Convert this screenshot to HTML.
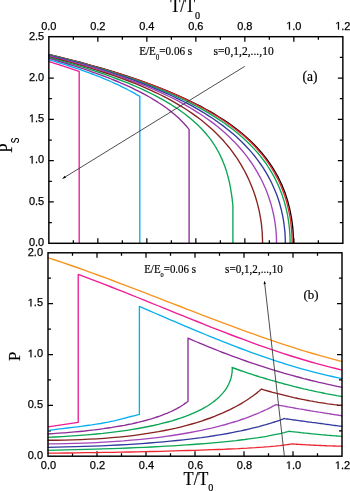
<!DOCTYPE html>
<html><head><meta charset="utf-8"><title>Ps and P vs T/T0</title>
<style>
html,body{margin:0;padding:0;background:#fff;}
body{width:350px;height:491px;overflow:hidden;font-family:"Liberation Sans",sans-serif;}
svg{display:block;}
.tx{filter:grayscale(1);}
</style></head><body>
<svg width="350" height="491" viewBox="0 0 350 491">
<rect width="350" height="491" fill="#fff"/>
<g fill="none" stroke="#000" stroke-width="1.25">
<path d="M73.35 36.70 v3.0 M73.35 243.30 v-3.0"/>
<path d="M97.85 36.70 v5.0 M97.85 243.30 v-5.0"/>
<path d="M122.35 36.70 v3.0 M122.35 243.30 v-3.0"/>
<path d="M146.85 36.70 v5.0 M146.85 243.30 v-5.0"/>
<path d="M171.35 36.70 v3.0 M171.35 243.30 v-3.0"/>
<path d="M195.85 36.70 v5.0 M195.85 243.30 v-5.0"/>
<path d="M220.35 36.70 v3.0 M220.35 243.30 v-3.0"/>
<path d="M244.85 36.70 v5.0 M244.85 243.30 v-5.0"/>
<path d="M269.35 36.70 v3.0 M269.35 243.30 v-3.0"/>
<path d="M293.85 36.70 v5.0 M293.85 243.30 v-5.0"/>
<path d="M318.35 36.70 v3.0 M318.35 243.30 v-3.0"/>
<path d="M48.85 222.64 h3.0 M342.85 222.64 h-3.0"/>
<path d="M48.85 201.98 h5.0 M342.85 201.98 h-5.0"/>
<path d="M48.85 181.32 h3.0 M342.85 181.32 h-3.0"/>
<path d="M48.85 160.66 h5.0 M342.85 160.66 h-5.0"/>
<path d="M48.85 140.00 h3.0 M342.85 140.00 h-3.0"/>
<path d="M48.85 119.34 h5.0 M342.85 119.34 h-5.0"/>
<path d="M48.85 98.68 h3.0 M342.85 98.68 h-3.0"/>
<path d="M48.85 78.02 h5.0 M342.85 78.02 h-5.0"/>
<path d="M48.85 57.36 h3.0 M342.85 57.36 h-3.0"/>
<path d="M72.50 252.80 v3.0 M72.50 456.20 v-3.0"/>
<path d="M97.00 252.80 v5.0 M97.00 456.20 v-5.0"/>
<path d="M121.50 252.80 v3.0 M121.50 456.20 v-3.0"/>
<path d="M146.00 252.80 v5.0 M146.00 456.20 v-5.0"/>
<path d="M170.50 252.80 v3.0 M170.50 456.20 v-3.0"/>
<path d="M195.00 252.80 v5.0 M195.00 456.20 v-5.0"/>
<path d="M219.50 252.80 v3.0 M219.50 456.20 v-3.0"/>
<path d="M244.00 252.80 v5.0 M244.00 456.20 v-5.0"/>
<path d="M268.50 252.80 v3.0 M268.50 456.20 v-3.0"/>
<path d="M293.00 252.80 v5.0 M293.00 456.20 v-5.0"/>
<path d="M317.50 252.80 v3.0 M317.50 456.20 v-3.0"/>
<path d="M48.00 430.77 h3.0 M342.00 430.77 h-3.0"/>
<path d="M48.00 405.35 h5.0 M342.00 405.35 h-5.0"/>
<path d="M48.00 379.93 h3.0 M342.00 379.93 h-3.0"/>
<path d="M48.00 354.50 h5.0 M342.00 354.50 h-5.0"/>
<path d="M48.00 329.07 h3.0 M342.00 329.07 h-3.0"/>
<path d="M48.00 303.65 h5.0 M342.00 303.65 h-5.0"/>
<path d="M48.00 278.23 h3.0 M342.00 278.23 h-3.0"/>
</g>
<g fill="none" stroke-width="1.35" stroke-linejoin="round">
<path stroke="#000000" d="M48.5 54.4 L59.8 57.1 L70.6 59.8 L81.0 62.5 L91.0 65.3 L100.6 68.0 L109.8 70.7 L118.7 73.5 L127.2 76.2 L135.3 78.9 L143.1 81.7 L150.6 84.4 L157.8 87.1 L164.7 89.9 L171.3 92.6 L177.6 95.3 L183.7 98.0 L189.5 100.8 L195.0 103.5 L200.4 106.2 L205.4 109.0 L210.3 111.7 L214.9 114.4 L219.4 117.2 L223.6 119.9 L227.7 122.6 L231.6 125.4 L235.2 128.1 L238.8 130.8 L242.1 133.6 L245.3 136.3 L248.4 139.0 L251.3 141.8 L254.1 144.5 L256.7 147.2 L259.2 149.9 L261.6 152.7 L263.8 155.4 L266.0 158.1 L268.0 160.9 L269.9 163.6 L271.8 166.3 L273.5 169.1 L275.1 171.8 L276.7 174.5 L278.2 177.2 L279.5 180.0 L280.8 182.7 L282.1 185.4 L283.2 188.2 L284.3 190.9 L285.3 193.6 L286.2 196.4 L287.1 199.1 L287.9 201.8 L288.6 204.6 L289.3 207.3 L289.9 210.0 L290.5 212.8 L291.0 215.5 L291.5 218.2 L291.9 220.9 L292.3 223.7 L292.6 226.4 L292.9 229.1 L293.1 231.9 L293.2 234.6 L293.4 237.3 L293.4 240.1 L293.4 242.8 L293.4 243.3"/>
<path stroke="#ED2630" d="M48.5 54.4 L59.7 57.2 L70.5 59.9 L80.8 62.6 L90.8 65.4 L100.3 68.1 L109.5 70.8 L118.3 73.5 L126.7 76.3 L134.8 79.0 L142.6 81.7 L150.1 84.5 L157.2 87.2 L164.1 89.9 L170.6 92.7 L176.9 95.4 L183.0 98.1 L188.7 100.8 L194.2 103.6 L199.5 106.3 L204.6 109.0 L209.4 111.8 L214.0 114.5 L218.5 117.2 L222.7 120.0 L226.7 122.7 L230.6 125.4 L234.2 128.2 L237.7 130.9 L241.1 133.6 L244.3 136.3 L247.3 139.1 L250.2 141.8 L252.9 144.5 L255.6 147.2 L258.0 150.0 L260.4 152.7 L262.7 155.4 L264.8 158.2 L266.8 160.9 L268.7 163.6 L270.6 166.4 L272.3 169.1 L273.9 171.8 L275.4 174.6 L276.9 177.3 L278.3 180.0 L279.6 182.7 L280.8 185.5 L281.9 188.2 L283.0 190.9 L284.0 193.7 L284.9 196.4 L285.8 199.1 L286.6 201.8 L287.3 204.6 L288.0 207.3 L288.6 210.0 L289.2 212.8 L289.7 215.5 L290.2 218.2 L290.6 221.0 L290.9 223.7 L291.2 226.4 L291.5 229.2 L291.7 231.9 L291.9 234.6 L292.0 237.3 L292.1 240.1 L292.1 242.8 L292.1 243.3"/>
<path stroke="#0AA655" d="M48.5 54.7 L59.5 57.4 L70.0 60.1 L80.1 62.9 L89.8 65.6 L99.2 68.3 L108.2 71.0 L116.8 73.8 L125.1 76.5 L133.1 79.2 L140.7 81.9 L148.0 84.7 L155.1 87.4 L161.8 90.1 L168.3 92.8 L174.5 95.6 L180.4 98.3 L186.1 101.0 L191.6 103.8 L196.8 106.5 L201.8 109.2 L206.6 111.9 L211.2 114.7 L215.6 117.4 L219.8 120.1 L223.8 122.8 L227.7 125.6 L231.3 128.3 L234.8 131.0 L238.2 133.7 L241.4 136.5 L244.4 139.2 L247.3 141.9 L250.1 144.7 L252.7 147.4 L255.2 150.1 L257.6 152.8 L259.9 155.6 L262.1 158.3 L264.1 161.0 L266.1 163.7 L267.9 166.5 L269.7 169.2 L271.3 171.9 L272.9 174.6 L274.4 177.4 L275.8 180.1 L277.1 182.8 L278.4 185.6 L279.5 188.3 L280.6 191.0 L281.7 193.7 L282.6 196.4 L283.5 199.2 L284.4 201.9 L285.1 204.6 L285.8 207.4 L286.5 210.1 L287.1 212.8 L287.6 215.5 L288.1 218.3 L288.5 221.0 L288.9 223.7 L289.2 226.4 L289.5 229.2 L289.7 231.9 L289.9 234.6 L290.0 237.3 L290.1 240.1 L290.1 242.8 L290.1 243.3"/>
<path stroke="#323A9E" d="M48.5 55.3 L59.5 58.0 L70.0 60.7 L80.1 63.4 L89.7 66.2 L99.0 68.9 L107.8 71.6 L116.3 74.3 L124.4 77.0 L132.2 79.7 L139.6 82.5 L146.7 85.2 L153.5 87.9 L160.0 90.6 L166.3 93.3 L172.2 96.0 L178.0 98.8 L183.4 101.5 L188.7 104.2 L193.7 106.9 L198.5 109.6 L203.1 112.3 L207.5 115.1 L211.7 117.8 L215.7 120.5 L219.5 123.2 L223.2 125.9 L226.7 128.7 L230.1 131.4 L233.3 134.1 L236.4 136.8 L239.3 139.5 L242.2 142.2 L244.8 145.0 L247.4 147.7 L249.9 150.4 L252.2 153.1 L254.4 155.8 L256.6 158.6 L258.6 161.3 L260.5 164.0 L262.4 166.7 L264.1 169.4 L265.8 172.1 L267.4 174.9 L268.9 177.6 L270.3 180.3 L271.7 183.0 L272.9 185.7 L274.1 188.4 L275.3 191.2 L276.4 193.9 L277.4 196.6 L278.3 199.3 L279.2 202.0 L280.0 204.8 L280.7 207.5 L281.4 210.2 L282.0 212.9 L282.6 215.6 L283.1 218.3 L283.6 221.1 L284.0 223.8 L284.3 226.5 L284.6 229.2 L284.9 231.9 L285.1 234.7 L285.2 237.4 L285.3 240.1 L285.3 242.8 L285.3 243.3"/>
<path stroke="#A345B8" d="M48.5 55.9 L59.4 58.6 L69.9 61.3 L79.8 64.0 L89.3 66.7 L98.4 69.4 L107.0 72.1 L115.3 74.8 L123.2 77.5 L130.7 80.3 L137.8 83.0 L144.7 85.7 L151.2 88.4 L157.5 91.1 L163.4 93.8 L169.1 96.5 L174.6 99.2 L179.7 101.9 L184.7 104.6 L189.4 107.3 L193.9 110.1 L198.3 112.8 L202.4 115.5 L206.4 118.2 L210.1 120.9 L213.8 123.6 L217.2 126.3 L220.5 129.0 L223.7 131.7 L226.7 134.4 L229.6 137.2 L232.3 139.9 L235.0 142.6 L237.5 145.3 L239.9 148.0 L242.3 150.7 L244.5 153.4 L246.6 156.1 L248.6 158.8 L250.5 161.5 L252.4 164.2 L254.1 166.9 L255.8 169.7 L257.4 172.4 L258.9 175.1 L260.4 177.8 L261.8 180.5 L263.1 183.2 L264.3 185.9 L265.5 188.6 L266.6 191.3 L267.6 194.0 L268.6 196.8 L269.5 199.5 L270.4 202.2 L271.2 204.9 L271.9 207.6 L272.6 210.3 L273.2 213.0 L273.8 215.7 L274.3 218.4 L274.8 221.1 L275.2 223.8 L275.5 226.6 L275.8 229.2 L276.1 232.0 L276.3 234.7 L276.4 237.4 L276.5 240.1 L276.5 242.8 L276.5 243.3"/>
<path stroke="#872220" d="M48.5 56.8 L59.3 59.5 L69.6 62.2 L79.4 64.9 L88.7 67.6 L97.5 70.3 L105.9 73.0 L113.9 75.7 L121.5 78.3 L128.7 81.0 L135.5 83.7 L142.1 86.4 L148.2 89.1 L154.2 91.8 L159.8 94.5 L165.1 97.2 L170.2 99.9 L175.0 102.6 L179.6 105.3 L184.0 108.0 L188.2 110.7 L192.1 113.4 L195.9 116.1 L199.6 118.8 L203.0 121.5 L206.3 124.2 L209.4 126.9 L212.4 129.6 L215.2 132.3 L218.0 135.0 L220.6 137.7 L223.1 140.3 L225.4 143.1 L227.7 145.7 L229.9 148.4 L231.9 151.1 L233.9 153.8 L235.8 156.5 L237.6 159.2 L239.3 161.9 L241.0 164.6 L242.5 167.3 L244.0 170.0 L245.5 172.7 L246.8 175.4 L248.1 178.1 L249.3 180.8 L250.5 183.5 L251.6 186.2 L252.7 188.9 L253.7 191.6 L254.6 194.3 L255.5 197.0 L256.3 199.7 L257.1 202.4 L257.8 205.1 L258.4 207.8 L259.1 210.4 L259.6 213.1 L260.1 215.8 L260.6 218.5 L261.0 221.2 L261.4 223.9 L261.7 226.6 L261.9 229.3 L262.2 232.0 L262.3 234.7 L262.4 237.4 L262.5 240.1 L262.6 242.8 L262.6 243.3"/>
<path stroke="#0AA655" d="M48.5 57.5 L56.6 59.6 L64.4 61.8 L71.9 63.9 L79.2 66.1 L86.1 68.2 L92.9 70.4 L99.3 72.5 L105.6 74.7 L111.6 76.8 L117.4 79.0 L122.9 81.1 L128.3 83.2 L133.4 85.4 L138.3 87.5 L143.1 89.7 L147.6 91.8 L152.0 94.0 L156.2 96.1 L160.2 98.3 L164.1 100.4 L167.7 102.6 L171.3 104.7 L174.6 106.9 L177.9 109.0 L181.0 111.2 L183.9 113.3 L186.7 115.5 L189.4 117.6 L192.0 119.8 L194.4 121.9 L196.8 124.0 L199.0 126.2 L201.1 128.3 L203.2 130.5 L205.1 132.7 L206.9 134.8 L208.6 136.9 L210.3 139.1 L211.8 141.2 L213.3 143.4 L214.7 145.5 L216.0 147.7 L217.3 149.8 L218.5 152.0 L219.6 154.1 L220.6 156.3 L221.6 158.4 L222.6 160.6 L223.4 162.7 L224.3 164.9 L225.1 167.0 L225.8 169.2 L226.5 171.3 L227.1 173.4 L227.7 175.6 L228.3 177.8 L228.8 179.9 L229.3 182.0 L229.8 184.2 L230.2 186.3 L230.6 188.5 L230.9 190.6 L231.3 192.8 L231.6 194.9 L231.9 197.1 L232.2 199.2 L232.4 201.4 L232.7 203.5 L232.9 205.7 L232.9 243.3"/>
<path stroke="#8E2C98" d="M48.5 58.4 L52.2 59.4 L55.8 60.4 L59.4 61.5 L62.9 62.5 L66.3 63.5 L69.7 64.5 L73.1 65.6 L76.3 66.6 L79.5 67.6 L82.7 68.7 L85.8 69.7 L88.8 70.7 L91.8 71.8 L94.7 72.8 L97.6 73.8 L100.4 74.8 L103.2 75.9 L105.9 76.9 L108.6 77.9 L111.2 79.0 L113.7 80.0 L116.2 81.0 L118.7 82.0 L121.1 83.1 L123.5 84.1 L125.8 85.1 L128.1 86.2 L130.3 87.2 L132.5 88.2 L134.6 89.3 L136.7 90.3 L138.8 91.3 L140.8 92.3 L142.7 93.4 L144.6 94.4 L146.5 95.4 L148.4 96.5 L150.2 97.5 L151.9 98.5 L153.6 99.6 L155.3 100.6 L157.0 101.6 L158.6 102.7 L160.2 103.7 L161.7 104.7 L163.2 105.7 L164.7 106.8 L166.1 107.8 L167.5 108.8 L168.8 109.8 L170.2 110.9 L171.5 111.9 L172.7 112.9 L174.0 114.0 L175.2 115.0 L176.3 116.0 L177.5 117.1 L178.6 118.1 L179.7 119.1 L180.8 120.2 L181.8 121.2 L182.8 122.2 L183.8 123.2 L184.7 124.3 L185.6 125.3 L186.5 126.3 L187.4 127.4 L188.2 128.4 L189.1 129.4 L189.1 243.3"/>
<path stroke="#08AEEF" d="M48.5 59.6 L50.3 60.1 L52.1 60.7 L54.0 61.2 L55.7 61.7 L57.5 62.3 L59.2 62.8 L61.0 63.3 L62.7 63.9 L64.4 64.4 L66.1 64.9 L67.7 65.5 L69.4 66.0 L71.0 66.5 L72.6 67.1 L74.2 67.6 L75.8 68.1 L77.4 68.7 L78.9 69.2 L80.5 69.7 L82.0 70.3 L83.5 70.8 L85.0 71.3 L86.5 71.9 L87.9 72.4 L89.4 72.9 L90.8 73.5 L92.2 74.0 L93.6 74.5 L95.0 75.1 L96.4 75.6 L97.8 76.1 L99.1 76.7 L100.5 77.2 L101.8 77.7 L103.1 78.3 L104.4 78.8 L105.6 79.3 L106.9 79.9 L108.2 80.4 L109.4 80.9 L110.6 81.5 L111.8 82.0 L113.0 82.5 L114.2 83.1 L115.4 83.6 L116.5 84.1 L117.7 84.7 L118.8 85.2 L119.9 85.7 L121.0 86.3 L122.1 86.8 L123.2 87.3 L124.3 87.9 L125.3 88.4 L126.4 88.9 L127.4 89.5 L128.4 90.0 L129.4 90.5 L130.4 91.1 L131.4 91.6 L132.4 92.1 L133.3 92.7 L134.3 93.2 L135.2 93.7 L136.2 94.3 L137.1 94.8 L138.0 95.3 L138.9 95.9 L139.8 96.4 L139.8 243.3"/>
<path stroke="#EE1E94" d="M48.5 61.4 L49.0 61.5 L49.4 61.7 L49.9 61.8 L50.4 62.0 L50.8 62.1 L51.3 62.3 L51.7 62.4 L52.2 62.5 L52.6 62.7 L53.1 62.8 L53.5 63.0 L54.0 63.1 L54.4 63.3 L54.9 63.4 L55.3 63.6 L55.8 63.7 L56.2 63.9 L56.7 64.0 L57.1 64.2 L57.6 64.3 L58.0 64.4 L58.5 64.6 L58.9 64.7 L59.4 64.9 L59.8 65.0 L60.3 65.2 L60.7 65.3 L61.2 65.5 L61.6 65.6 L62.1 65.7 L62.5 65.9 L63.0 66.0 L63.4 66.2 L63.9 66.3 L64.3 66.5 L64.7 66.6 L65.2 66.8 L65.6 66.9 L66.1 67.0 L66.5 67.2 L67.0 67.3 L67.4 67.5 L67.8 67.6 L68.3 67.8 L68.7 67.9 L69.2 68.1 L69.6 68.2 L70.0 68.4 L70.5 68.5 L70.9 68.7 L71.3 68.8 L71.8 68.9 L72.2 69.1 L72.7 69.2 L73.1 69.4 L73.5 69.5 L74.0 69.7 L74.4 69.8 L74.8 70.0 L75.3 70.1 L75.7 70.2 L76.2 70.4 L76.6 70.5 L77.0 70.7 L77.5 70.8 L77.9 71.0 L78.3 71.1 L78.8 71.3 L79.2 71.4 L79.2 243.3"/>
<path stroke="#ED2630" d="M47.5 453.2 L57.4 453.1 L67.1 453.0 L76.5 452.8 L85.8 452.7 L94.9 452.6 L103.7 452.4 L112.4 452.3 L120.8 452.1 L129.1 452.0 L137.2 451.8 L145.0 451.6 L152.6 451.5 L160.1 451.3 L167.3 451.1 L174.3 450.9 L181.2 450.7 L187.8 450.5 L194.2 450.3 L200.4 450.1 L206.4 449.9 L212.2 449.7 L217.8 449.5 L223.2 449.3 L228.4 449.0 L233.4 448.8 L238.2 448.6 L242.8 448.3 L247.2 448.1 L251.3 447.8 L255.3 447.6 L259.1 447.3 L262.7 447.1 L266.0 446.8 L269.2 446.6 L272.1 446.3 L274.9 446.1 L277.4 445.8 L279.8 445.6 L281.9 445.3 L283.9 445.1 L285.6 444.9 L287.1 444.7 L288.4 444.5 L289.6 444.3 L290.5 444.2 L291.2 444.0 L291.7 443.9 L292.0 443.9 L292.1 443.9 L292.1 443.9 L293.4 444.0 L294.6 444.1 L295.9 444.2 L297.1 444.2 L298.4 444.3 L299.6 444.4 L300.9 444.5 L302.1 444.6 L303.4 444.6 L304.6 444.7 L305.9 444.8 L307.2 444.9 L308.4 444.9 L309.7 445.0 L310.9 445.1 L312.2 445.1 L313.4 445.2 L314.7 445.2 L315.9 445.3 L317.2 445.4 L318.5 445.4 L319.7 445.5 L321.0 445.5 L322.2 445.6 L323.5 445.6 L324.7 445.7 L326.0 445.7 L327.2 445.8 L328.5 445.8 L329.8 445.9 L331.0 445.9 L332.3 445.9 L333.5 446.0 L334.8 446.0 L336.0 446.1 L337.3 446.1 L338.5 446.1 L339.8 446.1 L341.1 446.2 L342.3 446.2"/>
<path stroke="#0AA655" d="M47.5 450.3 L57.3 450.1 L66.8 449.9 L76.2 449.7 L85.4 449.4 L94.3 449.2 L103.1 448.9 L111.7 448.6 L120.0 448.3 L128.2 448.0 L136.1 447.7 L143.9 447.3 L151.4 447.0 L158.8 446.6 L165.9 446.2 L172.9 445.8 L179.6 445.4 L186.2 444.9 L192.5 444.5 L198.7 444.0 L204.6 443.6 L210.3 443.1 L215.9 442.6 L221.2 442.1 L226.4 441.6 L231.3 441.1 L236.0 440.6 L240.6 440.0 L244.9 439.5 L249.0 438.9 L252.9 438.4 L256.7 437.9 L260.2 437.3 L263.5 436.8 L266.6 436.3 L269.6 435.7 L272.3 435.2 L274.8 434.7 L277.1 434.2 L279.2 433.8 L281.1 433.4 L282.9 432.9 L284.4 432.6 L285.7 432.2 L286.8 431.9 L287.7 431.7 L288.4 431.5 L288.9 431.4 L289.2 431.3 L289.3 431.2 L289.3 431.3 L290.6 431.5 L291.9 431.6 L293.3 431.8 L294.6 431.9 L295.9 432.1 L297.2 432.2 L298.6 432.4 L299.9 432.5 L301.2 432.7 L302.6 432.8 L303.9 433.0 L305.2 433.1 L306.5 433.2 L307.9 433.4 L309.2 433.5 L310.5 433.6 L311.8 433.8 L313.1 433.9 L314.5 434.1 L315.8 434.2 L317.1 434.3 L318.4 434.4 L319.8 434.6 L321.1 434.7 L322.4 434.8 L323.8 434.9 L325.1 435.0 L326.4 435.1 L327.7 435.3 L329.1 435.4 L330.4 435.5 L331.7 435.6 L333.0 435.7 L334.4 435.8 L335.7 435.9 L337.0 436.0 L338.3 436.1 L339.6 436.2 L341.0 436.3 L342.3 436.4"/>
<path stroke="#323A9E" d="M47.5 447.3 L57.1 447.1 L66.4 446.9 L75.6 446.7 L84.6 446.4 L93.4 446.1 L101.9 445.8 L110.3 445.4 L118.5 445.0 L126.5 444.6 L134.3 444.1 L141.9 443.6 L149.3 443.0 L156.5 442.4 L163.5 441.8 L170.3 441.2 L176.9 440.5 L183.3 439.8 L189.5 439.1 L195.5 438.3 L201.4 437.6 L207.0 436.8 L212.4 436.0 L217.6 435.1 L222.7 434.3 L227.5 433.5 L232.1 432.6 L236.6 431.7 L240.8 430.9 L244.8 430.0 L248.7 429.1 L252.3 428.2 L255.8 427.4 L259.1 426.6 L262.1 425.7 L265.0 424.9 L267.6 424.1 L270.1 423.4 L272.4 422.7 L274.4 422.0 L276.3 421.4 L278.0 420.8 L279.5 420.3 L280.8 419.8 L281.8 419.4 L282.7 419.1 L283.4 418.8 L283.9 418.6 L284.2 418.5 L284.3 418.5 L284.3 418.6 L285.8 418.8 L287.2 419.0 L288.6 419.2 L290.1 419.4 L291.6 419.6 L293.0 419.8 L294.4 420.0 L295.9 420.2 L297.4 420.4 L298.8 420.6 L300.2 420.8 L301.7 421.0 L303.1 421.2 L304.6 421.4 L306.1 421.6 L307.5 421.8 L308.9 422.0 L310.4 422.1 L311.9 422.4 L313.3 422.6 L314.8 422.7 L316.2 422.9 L317.6 423.1 L319.1 423.3 L320.6 423.5 L322.0 423.7 L323.4 423.9 L324.9 424.1 L326.4 424.3 L327.8 424.5 L329.2 424.7 L330.7 424.9 L332.1 425.1 L333.6 425.3 L335.1 425.5 L336.5 425.7 L337.9 425.9 L339.4 426.1 L340.9 426.2 L342.3 426.4"/>
<path stroke="#A345B8" d="M47.5 443.9 L56.7 443.8 L65.8 443.6 L74.6 443.4 L83.3 443.1 L91.8 442.8 L100.0 442.4 L108.1 441.9 L116.0 441.4 L123.7 440.9 L131.2 440.2 L138.6 439.6 L145.7 438.9 L152.7 438.1 L159.4 437.3 L166.0 436.4 L172.4 435.5 L178.6 434.5 L184.5 433.5 L190.3 432.5 L196.0 431.4 L201.4 430.3 L206.6 429.2 L211.7 428.1 L216.5 426.9 L221.2 425.7 L225.7 424.5 L229.9 423.2 L234.0 422.0 L237.9 420.8 L241.6 419.5 L245.2 418.3 L248.5 417.1 L251.6 415.9 L254.6 414.7 L257.4 413.6 L259.9 412.5 L262.3 411.4 L264.5 410.4 L266.5 409.5 L268.3 408.6 L269.9 407.8 L271.3 407.1 L272.6 406.4 L273.6 405.9 L274.5 405.4 L275.1 405.0 L275.6 404.8 L275.9 404.6 L276.0 404.5 L276.0 404.7 L277.7 405.0 L279.3 405.3 L281.0 405.6 L282.6 405.9 L284.3 406.2 L285.9 406.5 L287.6 406.8 L289.3 407.1 L290.9 407.4 L292.6 407.7 L294.2 408.0 L295.9 408.3 L297.6 408.6 L299.2 408.9 L300.9 409.1 L302.5 409.4 L304.2 409.7 L305.8 410.0 L307.5 410.3 L309.1 410.5 L310.8 410.8 L312.5 411.1 L314.1 411.4 L315.8 411.6 L317.4 411.9 L319.1 412.2 L320.8 412.4 L322.4 412.7 L324.1 413.0 L325.7 413.2 L327.4 413.5 L329.0 413.7 L330.7 414.0 L332.4 414.3 L334.0 414.5 L335.7 414.8 L337.3 415.0 L339.0 415.3 L340.6 415.5 L342.3 415.8"/>
<path stroke="#872220" d="M47.5 440.2 L56.1 440.2 L64.6 440.1 L72.9 439.9 L81.0 439.6 L89.0 439.2 L96.8 438.8 L104.3 438.3 L111.7 437.7 L119.0 437.1 L126.0 436.4 L132.9 435.6 L139.6 434.7 L146.1 433.7 L152.4 432.7 L158.6 431.7 L164.6 430.5 L170.3 429.3 L176.0 428.1 L181.4 426.8 L186.7 425.4 L191.8 424.0 L196.7 422.6 L201.4 421.1 L205.9 419.5 L210.3 418.0 L214.5 416.4 L218.5 414.7 L222.4 413.1 L226.0 411.4 L229.5 409.8 L232.8 408.1 L235.9 406.5 L238.9 404.9 L241.6 403.3 L244.2 401.7 L246.6 400.2 L248.8 398.7 L250.9 397.3 L252.8 396.0 L254.5 394.7 L256.0 393.6 L257.3 392.6 L258.5 391.6 L259.5 390.8 L260.3 390.1 L260.9 389.6 L261.3 389.2 L261.6 389.0 L261.7 388.9 L261.7 389.2 L263.7 389.8 L265.7 390.4 L267.8 391.0 L269.8 391.5 L271.8 392.1 L273.8 392.6 L275.8 393.2 L277.8 393.7 L279.8 394.2 L281.9 394.7 L283.9 395.2 L285.9 395.7 L287.9 396.2 L289.9 396.7 L291.9 397.1 L293.9 397.6 L295.9 398.0 L298.0 398.5 L300.0 398.9 L302.0 399.3 L304.0 399.7 L306.0 400.1 L308.1 400.5 L310.1 400.9 L312.1 401.2 L314.1 401.6 L316.1 401.9 L318.1 402.3 L320.1 402.6 L322.1 402.9 L324.2 403.2 L326.2 403.6 L328.2 403.9 L330.2 404.1 L332.2 404.4 L334.2 404.7 L336.2 404.9 L338.3 405.2 L340.3 405.4 L342.3 405.6"/>
<path stroke="#0AA655" d="M47.5 437.3 L55.0 437.0 L62.3 436.6 L69.4 436.1 L76.4 435.7 L83.3 435.2 L90.0 434.6 L96.5 434.0 L102.9 433.4 L109.2 432.6 L115.2 431.9 L121.2 431.1 L126.9 430.3 L132.6 429.4 L138.0 428.5 L143.3 427.5 L148.5 426.5 L153.5 425.5 L158.3 424.4 L163.0 423.2 L167.6 422.0 L172.0 420.8 L176.2 419.5 L180.3 418.2 L184.2 416.8 L188.0 415.4 L191.6 413.9 L195.1 412.4 L198.4 410.9 L201.5 409.3 L204.5 407.6 L207.4 406.0 L210.1 404.2 L212.6 402.5 L215.0 400.6 L217.2 398.8 L219.3 396.9 L221.2 394.9 L223.0 392.9 L224.6 390.9 L226.1 388.8 L227.4 386.6 L228.5 384.5 L229.5 382.2 L230.4 380.0 L231.1 377.7 L231.6 375.3 L232.0 372.9 L232.2 370.5 L232.3 368.0 L232.1 367.5 L234.8 368.5 L237.6 369.5 L240.4 370.5 L243.1 371.4 L245.9 372.4 L248.6 373.3 L251.4 374.2 L254.1 375.1 L256.9 376.0 L259.6 376.9 L262.4 377.7 L265.2 378.5 L267.9 379.4 L270.7 380.2 L273.4 380.9 L276.2 381.7 L278.9 382.5 L281.7 383.2 L284.4 384.0 L287.2 384.7 L289.9 385.4 L292.7 386.1 L295.5 386.8 L298.2 387.5 L301.0 388.1 L303.7 388.8 L306.5 389.4 L309.2 390.1 L312.0 390.7 L314.8 391.3 L317.5 391.9 L320.3 392.4 L323.0 393.0 L325.8 393.6 L328.5 394.1 L331.3 394.6 L334.0 395.1 L336.8 395.7 L339.6 396.2 L342.3 396.7"/>
<path stroke="#8E2C98" d="M47.5 434.0 L53.2 433.6 L58.7 433.2 L64.2 432.8 L69.5 432.4 L74.7 431.9 L79.8 431.5 L84.8 431.0 L89.6 430.4 L94.4 429.9 L99.0 429.3 L103.5 428.7 L107.9 428.0 L112.2 427.4 L116.3 426.7 L120.3 426.0 L124.3 425.3 L128.1 424.5 L131.8 423.8 L135.3 423.0 L138.8 422.2 L142.1 421.3 L145.3 420.5 L148.4 419.6 L151.4 418.8 L154.3 417.9 L157.0 417.0 L159.7 416.1 L162.2 415.2 L164.6 414.2 L166.9 413.3 L169.0 412.4 L171.1 411.5 L173.0 410.6 L174.8 409.7 L176.5 408.8 L178.1 407.9 L179.6 407.1 L180.9 406.3 L182.2 405.5 L183.3 404.8 L184.2 404.1 L185.1 403.4 L185.9 402.9 L186.5 402.4 L187.1 402.0 L187.5 401.7 L187.8 401.4 L187.9 401.3 L188.0 401.2 L188.0 338.1 L191.9 339.8 L195.7 341.5 L199.6 343.1 L203.4 344.7 L207.3 346.3 L211.2 347.9 L215.0 349.4 L218.9 351.0 L222.7 352.5 L226.6 353.9 L230.4 355.4 L234.3 356.8 L238.2 358.2 L242.0 359.6 L245.9 361.0 L249.7 362.3 L253.6 363.6 L257.4 364.9 L261.3 366.2 L265.1 367.4 L269.0 368.6 L272.9 369.8 L276.7 371.0 L280.6 372.1 L284.4 373.3 L288.3 374.4 L292.1 375.4 L296.0 376.5 L299.9 377.5 L303.7 378.6 L307.6 379.5 L311.4 380.5 L315.3 381.4 L319.1 382.4 L323.0 383.2 L326.9 384.1 L330.7 384.9 L334.6 385.8 L338.4 386.6 L342.3 387.4"/>
<path stroke="#08AEEF" d="M48.0 430.5 L52.8 429.9 L57.7 429.2 L62.6 428.6 L67.5 428.0 L72.5 427.4 L77.4 426.8 L82.3 426.2 L87.1 425.5 L91.8 424.9 L96.4 424.2 L100.8 423.5 L105.0 422.7 L108.2 422.1 L111.3 421.4 L114.2 420.8 L117.1 420.1 L120.0 419.4 L122.8 418.7 L125.5 418.0 L128.3 417.2 L131.0 416.5 L133.8 415.8 L136.6 415.1 L139.4 414.4 L139.4 306.4 L144.5 308.6 L149.6 310.8 L154.6 313.0 L159.7 315.2 L164.8 317.4 L169.8 319.6 L174.9 321.7 L180.0 323.9 L185.1 326.1 L190.1 328.2 L195.2 330.3 L200.3 332.4 L205.3 334.5 L210.4 336.6 L215.5 338.6 L220.6 340.7 L225.6 342.7 L230.7 344.7 L235.8 346.6 L240.8 348.5 L245.9 350.4 L251.0 352.3 L256.1 354.1 L261.1 355.9 L266.2 357.7 L271.3 359.4 L276.4 361.1 L281.4 362.7 L286.5 364.3 L291.6 365.9 L296.6 367.4 L301.7 368.8 L306.8 370.2 L311.9 371.6 L316.9 372.9 L322.0 374.2 L327.1 375.4 L332.1 376.5 L337.2 377.6 L342.3 378.6"/>
<path stroke="#EE1E94" d="M48.0 426.9 L78.2 422.4 L78.2 274.4 L84.8 276.9 L91.4 279.3 L98.0 281.9 L104.6 284.4 L111.2 287.0 L117.8 289.6 L124.4 292.2 L131.0 294.8 L137.6 297.5 L144.2 300.1 L150.8 302.8 L157.4 305.5 L164.0 308.2 L170.6 310.9 L177.2 313.6 L183.8 316.2 L190.4 318.9 L197.1 321.5 L203.7 324.2 L210.2 326.8 L216.8 329.4 L223.5 331.9 L230.1 334.5 L236.7 337.0 L243.3 339.4 L249.9 341.9 L256.5 344.3 L263.1 346.6 L269.7 348.9 L276.3 351.1 L282.9 353.3 L289.5 355.5 L296.1 357.5 L302.7 359.5 L309.3 361.5 L315.9 363.4 L322.5 365.1 L329.1 366.9 L335.7 368.5 L342.3 370.1"/>
<path stroke="#F7941E" d="M47.5 257.6 L54.9 260.0 L62.2 262.4 L69.6 265.0 L77.0 267.5 L84.3 270.2 L91.7 272.8 L99.1 275.5 L106.5 278.2 L113.8 281.0 L121.2 283.8 L128.6 286.6 L135.9 289.4 L143.3 292.2 L150.7 295.1 L158.1 297.9 L165.4 300.8 L172.8 303.7 L180.2 306.5 L187.5 309.4 L194.9 312.2 L202.3 315.1 L209.6 317.9 L217.0 320.7 L224.4 323.4 L231.8 326.2 L239.1 328.9 L246.5 331.6 L253.9 334.2 L261.2 336.8 L268.6 339.4 L276.0 341.9 L283.3 344.3 L290.7 346.7 L298.1 349.1 L305.4 351.3 L312.8 353.5 L320.2 355.7 L327.6 357.7 L334.9 359.7 L342.3 361.6"/>
</g>
<g stroke="#3a3a3a" stroke-width="0.9" fill="#000">

<line x1="244.7" y1="66.4" x2="64" y2="177.7"/>
<polygon stroke="none" points="62,178.9 64.75,175.7 66.05,177.85"/>
<line x1="284.3" y1="455.5" x2="264.7" y2="283.5"/>
<polygon stroke="none" points="264.4,280.8 265.9,283.9 263.6,284.15"/>

</g>
<g fill="none" stroke="#000" stroke-width="1.45">
<rect x="48.85" y="36.70" width="294.00" height="206.60"/>
<rect x="48.00" y="252.80" width="294.00" height="203.40"/>
</g>
<g class="tx" font-family="'Liberation Sans', sans-serif" font-size="11" fill="#000" stroke="#000" stroke-width="0.25">
<text x="41.20" y="29.50">0.0</text>
<text x="40.85" y="469.00">0.0</text>
<text x="90.20" y="29.50">0.2</text>
<text x="89.86" y="469.00">0.2</text>
<text x="139.20" y="29.50">0.4</text>
<text x="138.85" y="469.00">0.4</text>
<text x="188.20" y="29.50">0.6</text>
<text x="187.85" y="469.00">0.6</text>
<text x="237.20" y="29.50">0.8</text>
<text x="236.85" y="469.00">0.8</text>
<path transform="translate(286.21,29.50) scale(0.00537,-0.00537)" d="M515 0V1237L197 1010V1180L530 1409H696V0Z" stroke-width="47"/><text x="292.32" y="29.50">.0</text>
<path transform="translate(285.86,469.00) scale(0.00537,-0.00537)" d="M515 0V1237L197 1010V1180L530 1409H696V0Z" stroke-width="47"/><text x="291.97" y="469.00">.0</text>
<path transform="translate(335.21,29.50) scale(0.00537,-0.00537)" d="M515 0V1237L197 1010V1180L530 1409H696V0Z" stroke-width="47"/><text x="341.32" y="29.50">.2</text>
<path transform="translate(334.86,469.00) scale(0.00537,-0.00537)" d="M515 0V1237L197 1010V1180L530 1409H696V0Z" stroke-width="47"/><text x="340.97" y="469.00">.2</text>
<text x="28.91" y="246.10">0.0</text>
<text x="28.91" y="204.78">0.5</text>
<path transform="translate(28.91,163.46) scale(0.00537,-0.00537)" d="M515 0V1237L197 1010V1180L530 1409H696V0Z" stroke-width="47"/><text x="35.03" y="163.46">.0</text>
<path transform="translate(28.91,122.14) scale(0.00537,-0.00537)" d="M515 0V1237L197 1010V1180L530 1409H696V0Z" stroke-width="47"/><text x="35.03" y="122.14">.5</text>
<text x="28.91" y="80.82">2.0</text>
<text x="28.91" y="39.50">2.5</text>
<text x="27.71" y="459.00">0.0</text>
<text x="27.71" y="408.15">0.5</text>
<path transform="translate(27.71,357.30) scale(0.00537,-0.00537)" d="M515 0V1237L197 1010V1180L530 1409H696V0Z" stroke-width="47"/><text x="33.83" y="357.30">.0</text>
<path transform="translate(27.71,306.45) scale(0.00537,-0.00537)" d="M515 0V1237L197 1010V1180L530 1409H696V0Z" stroke-width="47"/><text x="33.83" y="306.45">.5</text>
<text x="27.71" y="255.60">2.0</text>
</g>

<g class="tx" font-family="'Liberation Serif', serif" fill="#000" stroke="#000" stroke-width="0.2">
<text transform="translate(170.3,11.9) scale(0.97,1.05)" font-size="17">T/T<tspan font-size="10.5" dy="6.7">0</tspan></text>
<text transform="translate(183.6,485.4) scale(0.97,1.05)" font-size="17">T/T<tspan font-size="10.5" dy="5.3">0</tspan></text>
<text transform="translate(11.5,152.8) rotate(-90) scale(1,1.05)" font-size="17">P</text>
<text transform="translate(18.6,143.3) rotate(-90) scale(1,1.3)" font-size="11.5" stroke="none" font-family="'Liberation Sans', sans-serif">s</text>
<text transform="translate(19.6,361.1) rotate(-90) scale(1,1.03)" font-size="17">P</text>
<text transform="translate(139.2,55.3) scale(0.88,1)" font-size="12.7">E/E<tspan font-size="7.4" dy="4.2">0</tspan><tspan dy="-4.2">=0.06 s</tspan></text>
<text transform="translate(213.6,55.3) scale(0.91,0.98)" font-size="12.7">s=0,1,2,...,10</text>
<text transform="translate(144.2,272.9) scale(0.86,0.91)" font-size="12.7">E/E<tspan font-size="7.4" dy="4.2">0</tspan><tspan dy="-4.2">=0.06 s</tspan></text>
<text transform="translate(225.1,272.9) scale(0.875,0.9)" font-size="12.7">s=0,1,2,...,10</text>
<text transform="translate(302.5,80.6) scale(1,1.04)" font-size="13.5">(a)</text>
<text x="303.4" y="299.4" font-size="12.9">(b)</text>
</g>

</svg>
</body></html>
